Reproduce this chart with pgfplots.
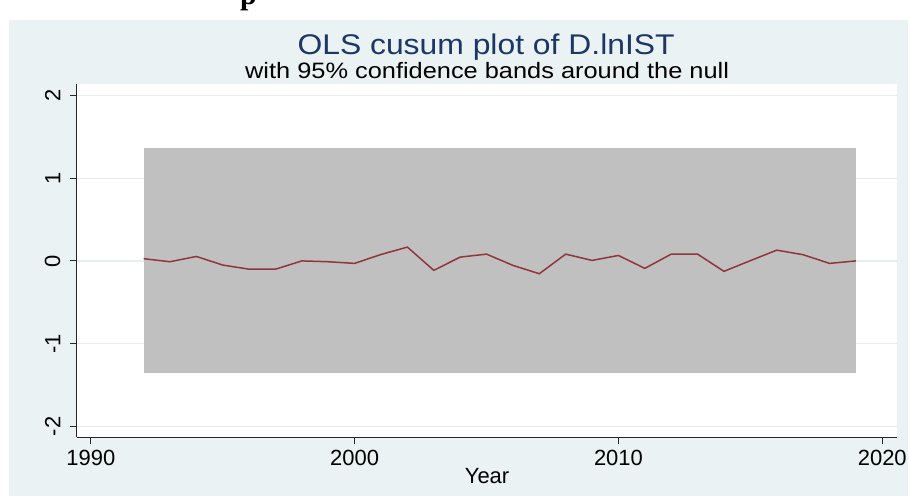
\documentclass[border=0pt]{standalone}
\usepackage{pgfplots}
\pgfplotsset{compat=1.18}
\usepackage{fontspec}
\setmainfont{Liberation Sans}
\newfontfamily\serifbold{Liberation Serif}

\definecolor{panel}{HTML}{EAF2F3}
\definecolor{gridc}{HTML}{E6EEF0}
\definecolor{bandc}{HTML}{C0C0C0}
\definecolor{linec}{HTML}{90353B}
\definecolor{titlec}{HTML}{1C3766}

\begin{document}
\begin{tikzpicture}[x=1pt,y=1pt]
  % page and graph region
  \fill[white] (0,0) rectangle (910,497);
  \fill[panel] (9,0) rectangle (910,477);
  \begin{scope}
    \clip (0,477) rectangle (910,497);
    \node[anchor=base, inner sep=0pt, font=\serifbold\bfseries\fontsize{30}{34}\selectfont] at (249,492) {p};
  \end{scope}

  % titles
  \node[anchor=base, xscale=1.12, text=titlec, font=\fontsize{28.5}{34}\selectfont] at (487,442) {OLS cusum plot of D.lnIST};
  \node[anchor=base, xscale=1.14, text=black, font=\fontsize{22.3}{26}\selectfont] at (488,418) {with 95\% confidence bands around the null};

  \begin{axis}[
      at={(77pt,59pt)}, anchor=south west,
      width=822pt, height=354pt, scale only axis,
      xmin=1989.47, xmax=2020.57,
      ymin=-2.13, ymax=2.14,
      axis background/.style={fill=white},
      axis x line*=bottom, axis y line*=left,
      axis line style={-, line width=1pt, color=black!85},
      xtick={1990,2000,2010,2020},
      xticklabels={1990,2000,2010,2020},
      ytick={-2,-1,0,1,2},
      yticklabels={-2,-1,0,1,2},
      tick align=outside,
      major tick length=7pt,
      tick style={line width=1pt, color=black!85},
      ticklabel style={font=\fontsize{22}{26}\selectfont},
      yticklabel style={rotate=90, anchor=south, yshift=6pt},
      xticklabel style={yshift=-2pt},
      ymajorgrids, grid style={color=gridc, line width=1.2pt},
      xlabel={Year},
      xlabel style={font=\fontsize{22}{26}\selectfont, yshift=4pt},
      clip=false,
    ]
    % 95% confidence band
    \addplot[fill=bandc, draw=none] coordinates {
      (1992,-1.36) (1992,1.36) (2019,1.36) (2019,-1.36)
    } -- cycle;
    % recursive cusum
    \addplot[color=linec, line width=1.5pt, mark=none] coordinates {
      (1992,0.027) (1993,-0.010) (1994,0.054) (1995,-0.050)
      (1996,-0.100) (1997,-0.100) (1998,0.000) (1999,-0.010)
      (2000,-0.030) (2001,0.078) (2002,0.167) (2003,-0.114)
      (2004,0.046) (2005,0.082) (2006,-0.054) (2007,-0.155)
      (2008,0.082) (2009,0.006) (2010,0.066) (2011,-0.090)
      (2012,0.082) (2013,0.082) (2014,-0.126) (2015,0.003)
      (2016,0.130) (2017,0.075) (2018,-0.030) (2019,0.000)
    };
  \end{axis}
\end{tikzpicture}
\end{document}
